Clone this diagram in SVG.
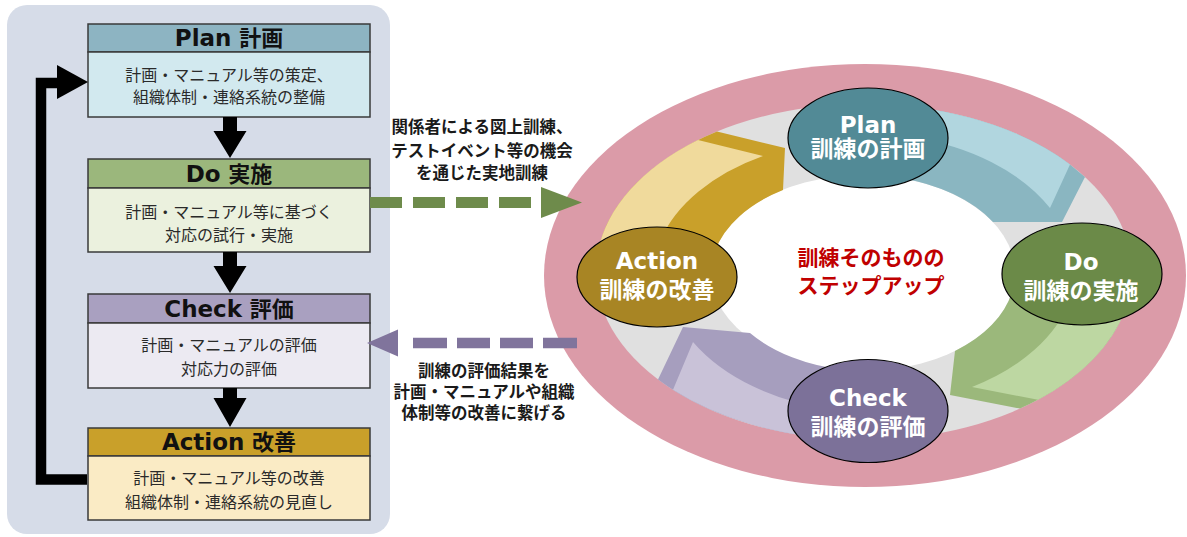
<svg xmlns="http://www.w3.org/2000/svg" width="1187" height="537" viewBox="0 0 1187 537">
<style>
.hd{font-family:'DejaVu Sans','Noto Sans CJK JP',sans-serif;font-weight:bold;font-size:22px;fill:#111;text-anchor:middle}
.bd{font-family:'Noto Sans CJK JP',sans-serif;font-size:16px;fill:#2a2a2a;text-anchor:middle}
.lb{font-family:'Noto Sans CJK JP',sans-serif;font-weight:bold;font-size:16.5px;fill:#1a1a1a;text-anchor:middle}
.box{stroke:#3a3a3a;stroke-width:1.5}
.nd{stroke:#000;stroke-width:1.2}
.nt{font-family:'DejaVu Sans','Noto Sans CJK JP',sans-serif;font-weight:bold;font-size:23px;fill:#fff;text-anchor:middle}
.ns{font-family:'Noto Sans CJK JP',sans-serif;font-weight:bold;font-size:23px;fill:#fff;text-anchor:middle}
.ct{font-family:'Noto Sans CJK JP',sans-serif;font-weight:bold;font-size:21px;fill:#C00000;text-anchor:middle}
.blk{fill:#000}
</style>
<rect x="7" y="5" width="383" height="529" rx="20" fill="#D6DCE8"/>
<g id="plan-box">
<rect class="box" x="88" y="24" width="282" height="28" fill="#8DB4C2"/>
<rect class="box" x="88" y="52" width="282" height="65" fill="#D2E9EF"/>
<text class="hd" x="229" y="46"><tspan font-size="23">Plan</tspan> 計画</text>
<text class="bd" x="229" y="81">計画・マニュアル等の策定、</text>
<text class="bd" x="229" y="103">組織体制・連絡系統の整備</text>
</g>
<g id="do-box">
<rect class="box" x="88" y="159" width="282" height="29" fill="#9BB77C"/>
<rect class="box" x="88" y="188" width="282" height="64" fill="#EBF1DE"/>
<text class="hd" x="229" y="181.5"><tspan font-size="23">Do</tspan> 実施</text>
<text class="bd" x="229" y="218">計画・マニュアル等に基づく</text>
<text class="bd" x="229" y="241">対応の試行・実施</text>
</g>
<g id="check-box">
<rect class="box" x="88" y="294" width="282" height="29" fill="#A9A0C0"/>
<rect class="box" x="88" y="323" width="282" height="65" fill="#ECEAF2"/>
<text class="hd" x="229" y="316.5"><tspan font-size="23">Check</tspan> 評価</text>
<text class="bd" x="229" y="351">計画・マニュアルの評価</text>
<text class="bd" x="229" y="375">対応力の評価</text>
</g>
<g id="action-box">
<rect class="box" x="88" y="428" width="282" height="28" fill="#C9A02A"/>
<rect class="box" x="88" y="456" width="282" height="64" fill="#FAEBC5"/>
<text class="hd" x="229" y="450"><tspan font-size="23">Action</tspan> 改善</text>
<text class="bd" x="229" y="484">計画・マニュアル等の改善</text>
<text class="bd" x="229" y="508">組織体制・連絡系統の見直し</text>
</g>
<g id="cycle-ring">
<ellipse cx="865" cy="275.5" rx="321" ry="211.5" fill="#DB9BA8"/>
<ellipse cx="864" cy="272" rx="268" ry="168" fill="#E0E0E0"/>
<ellipse cx="863" cy="273" rx="152" ry="98" fill="#FFFFFF"/>
</g>
<g id="connectors">
<polygon class="blk" points="223,117 237,117 237,131 246.5,131 230,158 213.5,131 223,131"/>
<polygon class="blk" points="223,252 237,252 237,266 246.5,266 230,293 213.5,266 223,266"/>
<polygon class="blk" points="223,388 237,388 237,398 246.5,398 230,427 213.5,398 223,398"/>
<path d="M87,479.5 H41 V83 H60" fill="none" stroke="#000" stroke-width="10.5" stroke-linejoin="miter"/>
<polygon class="blk" points="57,65 88,82 57,99"/>
<path d="M370,202.5 H402 M413,202.5 H445 M456,202.5 H488 M499,202.5 H531" stroke="#6E8B4B" stroke-width="11" fill="none"/>
<polygon points="541,187 582,202.5 541,218" fill="#6E8B4B"/>
<path d="M413,343 H447 M457,343 H490 M500,343 H533 M543,343 H577" stroke="#80749C" stroke-width="10.5" fill="none"/>
<polygon points="398,329.5 367,343 398,356.5" fill="#80749C"/>
<text class="lb" x="482" y="133">関係者による図上訓練、</text>
<text class="lb" x="482" y="157">テストイベント等の機会</text>
<text class="lb" x="482" y="179">を通じた実地訓練</text>
<text class="lb" x="484" y="376.5">訓練の評価結果を</text>
<text class="lb" x="484" y="398">計画・マニュアルや組織</text>
<text class="lb" x="484" y="419">体制等の改善に繋げる</text>
<path d="M900,105.5 A268,168 0 0 1 1070,164.5 L1085,177 L1062,222 L993,222 A152,98 0 0 0 900,178 Z" fill="#8AB6C1"/>
<path d="M900,105.5 A268,168 0 0 1 1070,164.5 L1050,208 A210,140 0 0 0 910,137 Z" fill="#B1D6DF"/>
<path d="M598,251.5 A268,168 0 0 1 717,131.5 L785,148 L783,190 A152,98 0 0 0 715,251 Z" fill="#C9A02A"/>
<path d="M598,251.5 A268,168 0 0 1 698,140 L763,156 A210,140 0 0 0 660,241 Z" fill="#F0DA9C"/>
<path d="M840,439 A268,168 0 0 1 658,379.5 L683,327 L750,333 A152,98 0 0 0 845,370 Z" fill="#A69EBE"/>
<path d="M840,439 A268,168 0 0 1 673,389.8 L693,342 A210,140 0 0 0 835,410 Z" fill="#C9C2D8"/>
<path d="M1125,310 A268,168 0 0 1 1020,408.6 L950,395 L955,351 A152,98 0 0 0 1012,292 Z" fill="#9BB87B"/>
<path d="M1125,310 A268,168 0 0 1 1038,399.8 L972,387 A210,140 0 0 0 1070,300 Z" fill="#BDD7A2"/>
</g>
<g id="center-label">
<text class="ct" x="871" y="265">訓練そのものの</text>
<text class="ct" x="871" y="293">ステップアップ</text>
</g>
<g id="plan-node">
<ellipse class="nd" cx="868" cy="138" rx="80" ry="50" fill="#528A96"/>
<text class="nt" x="868" y="133" font-size="22">Plan</text>
<text class="ns" x="868" y="157" font-size="18.5">訓練の計画</text>
</g>
<g id="do-node">
<ellipse class="nd" cx="1082" cy="274" rx="80" ry="51" fill="#6B8A48"/>
<text class="nt" x="1081" y="270">Do</text>
<text class="ns" x="1081" y="299">訓練の実施</text>
</g>
<g id="check-node">
<ellipse class="nd" cx="868" cy="411" rx="80" ry="51.5" fill="#7C7199"/>
<text class="nt" x="868" y="406">Check</text>
<text class="ns" x="868" y="435">訓練の評価</text>
</g>
<g id="action-node">
<ellipse class="nd" cx="657" cy="277" rx="80" ry="50" fill="#A88524"/>
<text class="nt" x="657" y="269">Action</text>
<text class="ns" x="657" y="298">訓練の改善</text>
</g>
</svg>
